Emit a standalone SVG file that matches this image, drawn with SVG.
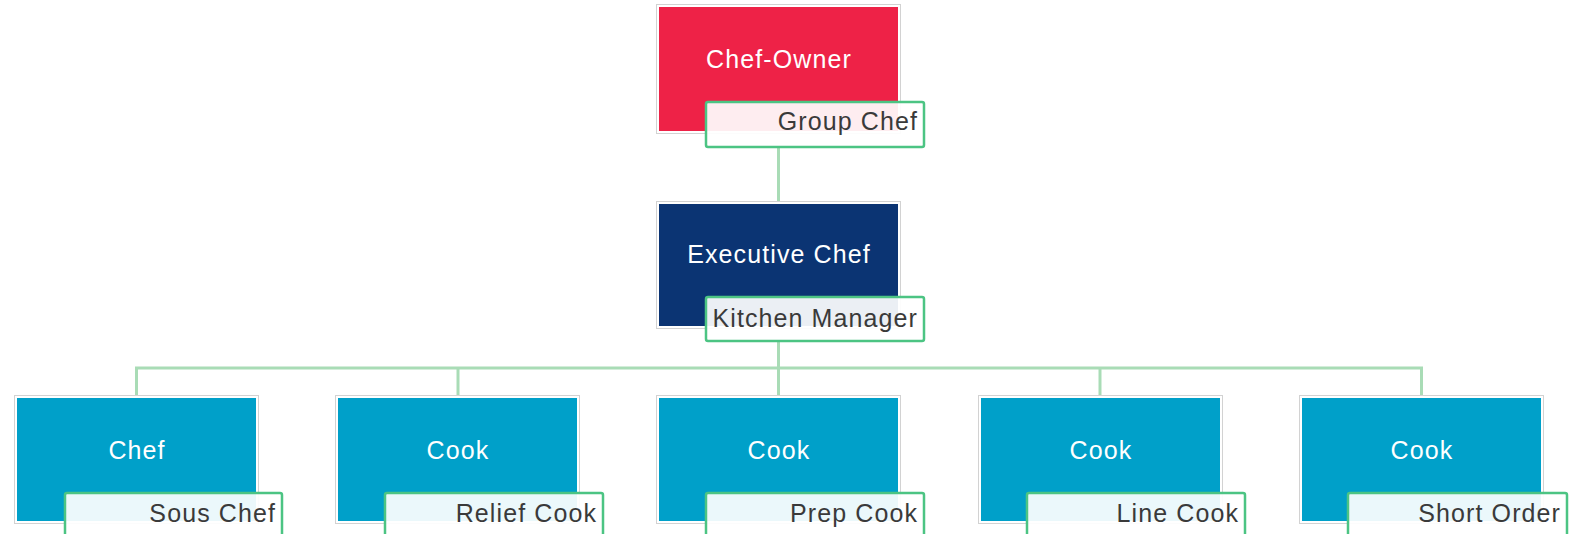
<svg xmlns="http://www.w3.org/2000/svg" width="1578" height="534" viewBox="0 0 1578 534">
<style>
.box{stroke:#ffffff;stroke-width:2}
.frame{fill:none;stroke:#d2d2d2;stroke-width:1}
.red{fill:#ee2247}
.navy{fill:#0b3473}
.blue{fill:#00a0c9}
.lbl{fill:#ffffff;fill-opacity:0.92;stroke:#4cc483;stroke-width:2.5}
.nt{font-family:"Liberation Sans",Arial,sans-serif;font-size:25px;fill:#ffffff;text-anchor:middle;letter-spacing:1.1px}
.lt{font-family:"Liberation Sans",Arial,sans-serif;font-size:25px;fill:#3a3a3a;text-anchor:end;letter-spacing:1.1px}
.conn{fill:none;stroke:#a9dcb6;stroke-width:3}
</style>
<g id="connectors">
<path class="conn" d="M778.5 147 V203"/>
<path class="conn" d="M778.5 341 V397"/>
<path class="conn" d="M136.5 397 V368 H1421.5 V397"/>
<path class="conn" d="M458 368 V397"/>
<path class="conn" d="M1100 368 V397"/>
</g>
<g id="chef-owner">
<rect class="box red" x="658" y="6" width="241" height="126"/>
<rect class="frame" x="656.5" y="4.5" width="244" height="129"/>
<text class="nt" x="779" y="68">Chef-Owner</text>
<rect class="lbl" x="706" y="102" width="218" height="45" rx="2"/>
<text class="lt" x="918" y="130">Group Chef</text>
</g>
<g id="executive-chef">
<rect class="box navy" x="658" y="203" width="241" height="124"/>
<rect class="frame" x="656.5" y="201.5" width="244" height="127"/>
<text class="nt" x="779" y="263">Executive Chef</text>
<rect class="lbl" x="706" y="297" width="218" height="44" rx="2"/>
<text class="lt" x="918" y="327">Kitchen Manager</text>
</g>
<g id="chef">
<rect class="box blue" x="16" y="397" width="241" height="125"/>
<rect class="frame" x="14.5" y="395.5" width="244" height="128"/>
<text class="nt" x="137" y="459">Chef</text>
<rect class="lbl" x="65" y="493" width="217" height="45" rx="2"/>
<text class="lt" x="276" y="522">Sous Chef</text>
</g>
<g id="cook-relief">
<rect class="box blue" x="337" y="397" width="241" height="125"/>
<rect class="frame" x="335.5" y="395.5" width="244" height="128"/>
<text class="nt" x="458" y="459">Cook</text>
<rect class="lbl" x="385" y="493" width="218" height="45" rx="2"/>
<text class="lt" x="597" y="522">Relief Cook</text>
</g>
<g id="cook-prep">
<rect class="box blue" x="658" y="397" width="241" height="125"/>
<rect class="frame" x="656.5" y="395.5" width="244" height="128"/>
<text class="nt" x="779" y="459">Cook</text>
<rect class="lbl" x="706" y="493" width="218" height="45" rx="2"/>
<text class="lt" x="918" y="522">Prep Cook</text>
</g>
<g id="cook-line">
<rect class="box blue" x="980" y="397" width="241" height="125"/>
<rect class="frame" x="978.5" y="395.5" width="244" height="128"/>
<text class="nt" x="1101" y="459">Cook</text>
<rect class="lbl" x="1027" y="493" width="218" height="45" rx="2"/>
<text class="lt" x="1239" y="522">Line Cook</text>
</g>
<g id="cook-short">
<rect class="box blue" x="1301" y="397" width="241" height="125"/>
<rect class="frame" x="1299.5" y="395.5" width="244" height="128"/>
<text class="nt" x="1422" y="459">Cook</text>
<rect class="lbl" x="1348" y="493" width="219" height="45" rx="2"/>
<text class="lt" x="1561" y="522">Short Order</text>
</g>
</svg>
